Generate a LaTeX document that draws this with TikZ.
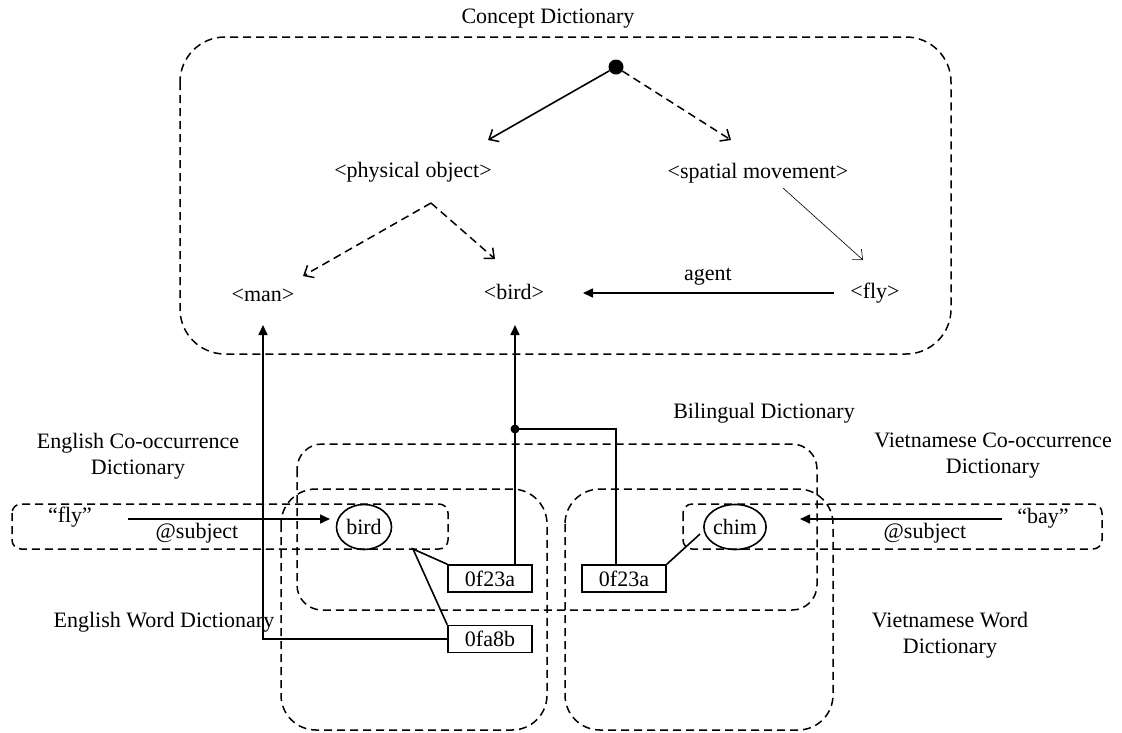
\documentclass[tikz,border=0pt]{standalone}
\usepackage{fontspec}
\setmainfont{Liberation Serif}
\usetikzlibrary{arrows.meta,shapes.geometric}
\begin{document}
\begin{tikzpicture}[x=1pt,y=-1pt,
  every node/.style={font=\fontsize{22}{26}\selectfont, inner sep=0pt},
  ln/.style={line width=1.6pt},
  dsh/.style={line width=1.5pt, dash pattern=on 8pt off 5pt},
  fa/.style={ln,-{Triangle[length=10pt,width=9pt]}},
  oa/.style={-{Straight Barb[length=8pt,width=14pt,line width=1.5pt]}},
  thinarrow/.style={line width=0.6pt,-{Straight Barb[length=8pt,width=14pt,line width=0.6pt]}},
  codebox/.style={draw, line width=1.6pt, minimum width=84pt, minimum height=27pt},
  ell/.style={ellipse, draw, line width=1.6pt, minimum width=55pt, minimum height=45pt},
  dotnode/.style={circle, fill, inner sep=0pt}]
\useasboundingbox (0,0) rectangle (1122,732);

% container boxes
\draw[dsh, rounded corners=45pt] (180,37) rectangle (951,354);
\draw[dsh, rounded corners=25pt] (297,444) rectangle (817,610);
\draw[dsh, rounded corners=35pt] (281,489) rectangle (547,730);
\draw[dsh, rounded corners=35pt] (565,489) rectangle (833,730);
\draw[dsh, rounded corners=9pt] (12,504) rectangle (448,549);
\draw[dsh, rounded corners=9pt] (683,504) rectangle (1102,549);

% concept dictionary
\node (ctitle) at (548,19) {Concept Dictionary};
\node[dotnode, minimum size=15pt] (root) at (616,67) {};
\coordinate (poTip) at (488,140);
\coordinate (smTip) at (731,140);
\node (phys) at (413,172) {<physical object>};
\node (spat) at (758,173) {<spatial movement>};
\coordinate (peak) at (431,203);
\coordinate (manTipA) at (303,276);
\coordinate (birdTipA) at (495,259);
\node (man) at (263,295) {<man>};
\node (birdc) at (514,292) {<bird>};
\node (flyc) at (875,293) {<fly>};
\node (agent) at (708,277) {agent};
\coordinate (smStart) at (783,188);
\coordinate (flyTip) at (863,260);
\coordinate (agentStart) at (834,293);
\coordinate (agentTip) at (583,293);

\draw[ln, oa] (root) -- (poTip);
\draw[dsh, oa] (root) -- (smTip);
\draw[dsh, oa] (peak) -- (manTipA);
\draw[dsh, oa] (peak) -- (birdTipA);
\draw[thinarrow] (smStart) -- (flyTip);
\draw[fa] (agentStart) -- (agentTip);

% lower dictionaries
\node (bdtitle) at (764,413) {Bilingual Dictionary};
\node[align=center] (ecotitle) at (138,456) {English Co-occurrence\\Dictionary};
\node[align=center] (vcotitle) at (993,456) {Vietnamese Co-occurrence\\Dictionary};
\node (ewtitle) at (164,622) {English Word Dictionary};
\node[align=center] (vwtitle) at (950,635) {Vietnamese Word\\Dictionary};

\node (fly) at (70,517) {“fly”};
\node (esub) at (197,533) {@subject};
\node (bay) at (1043,518) {“bay”};
\node (vsub) at (925,533) {@subject};
\node[ell] (bird) at (364,527) {bird};
\node[ell, minimum width=58pt] (chim) at (735,527) {chim};
\node[codebox] (ea) at (490,578.5) {0f23a};
\node[codebox] (eb) at (490,639) {0fa8b};
\node[codebox] (va) at (624,578.5) {0f23a};

\coordinate (flyS) at (128,519);
\coordinate (birdIn) at (330,519);
\coordinate (bayS) at (1002,519);
\coordinate (chimIn) at (800,519);
\draw[fa] (flyS) -- (birdIn);
\draw[fa] (bayS) -- (chimIn);

\coordinate (manTip) at (263,325);
\coordinate (birdTip) at (515,325);
\draw[fa] (eb.west) -| (manTip);
\draw[fa] (ea.north -| birdTip) -- (birdTip);
\node[dotnode, minimum size=9pt] (jn) at (515,429) {};
\coordinate (vaTop) at (616,565);
\draw[ln] (jn.center) -| (vaTop);

\coordinate (wedge) at (413,549);
\draw[ln] (ea.north west) -- (wedge) -- (eb.north west);
\coordinate (chimEnd) at (700,534);
\draw[ln] (va.north east) -- (chimEnd);
\end{tikzpicture}
\end{document}
